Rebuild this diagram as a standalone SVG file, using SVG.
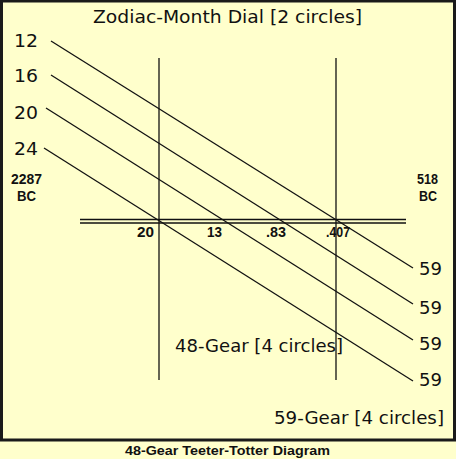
<svg xmlns="http://www.w3.org/2000/svg" width="456" height="459" viewBox="0 0 456 459">
<style>
.ln{stroke:#111;stroke-width:1.3;fill:none}
.big{font-family:"DejaVu Sans","Liberation Sans",sans-serif;font-size:17px;fill:#111}
.num{font-family:"Liberation Sans",Arial,sans-serif;font-size:15px;font-weight:bold;fill:#111}
.cap{font-family:"Liberation Sans",Arial,sans-serif;font-size:13px;font-weight:bold;fill:#111}
</style>
<rect x="0" y="0" width="456" height="459" fill="#FFFFCC"/>
<rect x="1.5" y="1" width="453" height="439" fill="#FFFFCC" stroke="#1a1a1a" stroke-width="3"/>
<g id="title"><text class="big" x="93" y="23" textLength="269" lengthAdjust="spacingAndGlyphs">Zodiac-Month Dial [2 circles]</text></g>
<g id="left-labels">
<text class="big" x="14" y="47" textLength="24" lengthAdjust="spacingAndGlyphs">12</text>
<text class="big" x="14" y="82" textLength="24" lengthAdjust="spacingAndGlyphs">16</text>
<text class="big" x="14" y="119" textLength="24" lengthAdjust="spacingAndGlyphs">20</text>
<text class="big" x="14" y="155" textLength="24" lengthAdjust="spacingAndGlyphs">24</text>
</g>
<g id="right-labels">
<text class="big" x="419" y="275" textLength="23" lengthAdjust="spacingAndGlyphs">59</text>
<text class="big" x="419" y="314" textLength="23" lengthAdjust="spacingAndGlyphs">59</text>
<text class="big" x="419" y="350" textLength="23" lengthAdjust="spacingAndGlyphs">59</text>
<text class="big" x="419" y="386" textLength="23" lengthAdjust="spacingAndGlyphs">59</text>
</g>
<g id="dates">
<text class="num" x="11" y="184" textLength="31" lengthAdjust="spacingAndGlyphs">2287</text>
<text class="num" x="17" y="201" textLength="19" lengthAdjust="spacingAndGlyphs">BC</text>
<text class="num" x="417" y="184" textLength="21" lengthAdjust="spacingAndGlyphs">518</text>
<text class="num" x="419" y="201" textLength="18" lengthAdjust="spacingAndGlyphs">BC</text>
</g>
<g id="connectors">
<line class="ln" x1="159" y1="58" x2="159" y2="380"/>
<line class="ln" x1="336" y1="58" x2="336" y2="380"/>
<line class="ln" x1="80" y1="219.5" x2="406" y2="219.5"/>
<line class="ln" x1="80" y1="223" x2="406" y2="223"/>
<line class="ln" x1="51" y1="41" x2="413" y2="268"/>
<line class="ln" x1="51" y1="75" x2="413" y2="304"/>
<line class="ln" x1="46" y1="108" x2="413" y2="340"/>
<line class="ln" x1="44" y1="148" x2="413" y2="381"/>
</g>
<g id="axis-values">
<text class="num" x="137" y="237" textLength="17" lengthAdjust="spacingAndGlyphs">20</text>
<text class="num" x="207" y="237" textLength="15" lengthAdjust="spacingAndGlyphs">13</text>
<text class="num" x="266" y="237" textLength="20" lengthAdjust="spacingAndGlyphs">.83</text>
<text class="num" x="326" y="237" textLength="24" lengthAdjust="spacingAndGlyphs">.407</text>
</g>
<g id="gear48"><text class="big" x="175" y="352" textLength="168" lengthAdjust="spacingAndGlyphs">48-Gear [4 circles]</text></g>
<g id="gear59"><text class="big" x="274" y="424" textLength="170" lengthAdjust="spacingAndGlyphs">59-Gear [4 circles]</text></g>
<g id="caption"><text class="cap" x="125" y="455" textLength="205" lengthAdjust="spacingAndGlyphs">48-Gear Teeter-Totter Diagram</text></g>
</svg>
